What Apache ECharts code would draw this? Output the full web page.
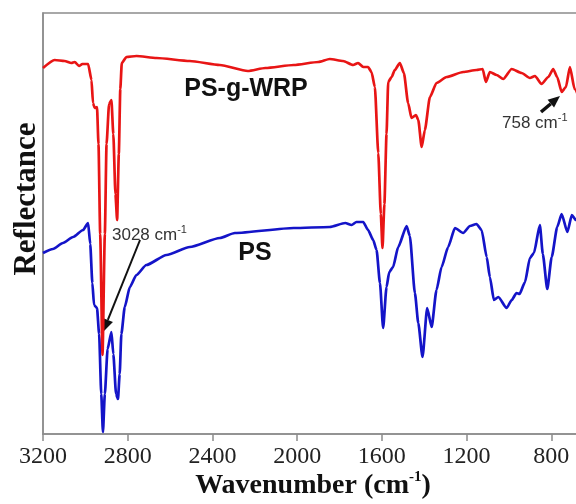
<!DOCTYPE html>
<html>
<head>
<meta charset="utf-8">
<script src="https://cdn.jsdelivr.net/npm/echarts@6/dist/echarts.min.js"></script>
<style>
html, body { margin: 0; padding: 0; background: #fff; }
#main { width: 576px; height: 504px; }
</style>
</head>
<body>
<div id="main"></div>
<script>
// wavenumber axis (cm-1), drawn reversed
const wnMin = 400
const wnMax = 3200
const wnStep = 400

// PS-g-WRP (red)
const redWn = [3200, 3145, 3098, 3066, 3050, 3030, 3014, 2987, 2971, 2964, 2956, 2945, 2938, 2930, 2919, 2908, 2900, 2888, 2877, 2868, 2858, 2850, 2842, 2835, 2828, 2806, 2759, 2664, 2507, 2365, 2233, 2150, 2016, 1900, 1846, 1783, 1736, 1712, 1688, 1665, 1649, 1633, 1617, 1605, 1597, 1588, 1578, 1570, 1554, 1539, 1515, 1496, 1476, 1460, 1439, 1428, 1412, 1397, 1373, 1342, 1294, 1216, 1153, 1124, 1109, 1090, 1058, 1027, 987, 940, 901, 877, 846, 814, 791, 772, 751, 731, 712, 690, 660]
const redVal = [366, 374, 373, 371, 372, 368, 370, 370, 354, 331, 326, 327, 290, 200, 79, 200, 290, 330, 334, 300, 240, 214, 280, 345, 371, 377, 378, 376, 373, 369, 363, 366, 369, 372, 375, 373, 369, 371, 367, 367, 362, 347, 281, 220, 186, 230, 300, 352, 357, 364, 371, 361, 331, 316, 319, 314, 287, 304, 337, 351, 357, 362, 364, 365, 352, 362, 359, 355, 365, 361, 356, 358, 350, 357, 365, 357, 342, 347, 367, 345, 330]

// PS (blue)
const blueWn = [3200, 3153, 3106, 3058, 3011, 2987, 2977, 2967, 2959, 2945, 2935, 2925, 2917, 2908, 2895, 2877, 2868, 2855, 2846, 2838, 2830, 2814, 2790, 2759, 2712, 2617, 2507, 2365, 2294, 2016, 1846, 1773, 1743, 1720, 1688, 1665, 1641, 1625, 1609, 1594, 1578, 1565, 1547, 1523, 1483, 1468, 1444, 1428, 1408, 1386, 1365, 1342, 1318, 1287, 1255, 1216, 1184, 1153, 1129, 1105, 1090, 1071, 1050, 1011, 987, 964, 950, 924, 901, 882, 854, 840, 819, 798, 772, 751, 724, 703, 684, 660]
const blueVal = [181, 185, 191, 197, 204, 211, 190, 151, 129, 126, 100, 40, 2, 40, 85, 102, 80, 40, 35, 60, 100, 127, 147, 159, 169, 179, 187, 196, 201, 206, 207, 211, 209, 212, 212, 204, 194, 184, 151, 106, 147, 162, 167, 187, 208, 198, 141, 111, 77, 126, 107, 144, 167, 187, 206, 201, 208, 210, 204, 177, 157, 134, 137, 126, 134, 141, 140, 152, 176, 181, 209, 180, 145, 177, 207, 220, 202, 219, 214, 205]

const chart = echarts.init(document.getElementById('main'))

const pairs = (xs, ys) => xs.map((x, i) => [x, ys[i]])

function arrow(x1, y1, x2, y2, head, width) {
    const a = Math.atan2(y2 - y1, x2 - x1)
    const bx = x2 - head * Math.cos(a)
    const by = y2 - head * Math.sin(a)
    const nx = -Math.sin(a) * head * 0.42
    const ny = Math.cos(a) * head * 0.42
    return [
        { type: 'line', shape: { x1: x1, y1: y1, x2: bx, y2: by }, style: { stroke: '#111', lineWidth: width } },
        { type: 'polygon', shape: { points: [[x2, y2], [bx + nx, by + ny], [bx - nx, by - ny]] }, style: { fill: '#111' } }
    ]
}

const axisGray = '#8c8c8c'
const serif = '"Liberation Serif", "DejaVu Serif", serif'
const sans = '"Liberation Sans", Arial, sans-serif'

const option = {
    animation: false,
    backgroundColor: '#fff',
    grid: { left: 43, top: 13, width: 593, height: 421, show: true, borderColor: axisGray, borderWidth: 1.5,
            containLabel: false, outerBoundsMode: 'none' },
    xAxis: {
        type: 'value', inverse: true, min: wnMin, max: wnMax, interval: wnStep,
        axisLine: { show: true, lineStyle: { color: axisGray, width: 1.5 } },
        axisTick: { show: true, inside: false, length: 7, lineStyle: { color: axisGray, width: 1.5 } },
        axisLabel: { fontFamily: serif, fontSize: 24, color: '#222', margin: 11, formatter: v => String(v) },
        splitLine: { show: false }
    },
    yAxis: {
        type: 'value', min: 0, max: 421,
        axisLine: { show: true, lineStyle: { color: axisGray, width: 1.5 } },
        axisTick: { show: false }, axisLabel: { show: false }, splitLine: { show: false }
    },
    series: [
        { name: 'PS', type: 'line', data: pairs(blueWn, blueVal), showSymbol: false, smooth: 0.2, smoothMonotone: 'x',
          lineStyle: { color: '#1414c8', width: 2.7 }, z: 2 },
        { name: 'PS-g-WRP', type: 'line', data: pairs(redWn, redVal), showSymbol: false, smooth: 0.2, smoothMonotone: 'x',
          lineStyle: { color: '#e81515', width: 2.7 }, z: 3 }
    ],
    graphic: [
        { type: 'text', x: 246, y: 89, z: 10, style: { text: 'PS-g-WRP', font: 'bold 25px ' + sans, fill: '#111', align: 'center', verticalAlign: 'middle' } },
        { type: 'text', x: 255, y: 253, z: 10, style: { text: 'PS', font: 'bold 25px ' + sans, fill: '#111', align: 'center', verticalAlign: 'middle' } },
        { type: 'text', x: 112, y: 234, z: 10, style: { text: '{a|3028 cm}{s|-1}', align: 'left', verticalAlign: 'middle',
          rich: { a: { font: '17px ' + sans, fill: '#333', lineHeight: 20, verticalAlign: 'bottom' }, s: { font: '11px ' + sans, fill: '#333', lineHeight: 20, verticalAlign: 'top' } } } },
        { type: 'text', x: 502, y: 122, z: 10, style: { text: '{a|758 cm}{s|-1}', align: 'left', verticalAlign: 'middle',
          rich: { a: { font: '17px ' + sans, fill: '#333', lineHeight: 20, verticalAlign: 'bottom' }, s: { font: '11px ' + sans, fill: '#333', lineHeight: 20, verticalAlign: 'top' } } } },
        { type: 'text', x: 313, y: 485, z: 10, style: { text: '{a|Wavenumber (cm}{s|-1}{a|)}', align: 'center', verticalAlign: 'middle',
          rich: { a: { font: 'bold 28px ' + serif, fill: '#111', lineHeight: 30, verticalAlign: 'bottom' }, s: { font: 'bold 15px ' + serif, fill: '#111', lineHeight: 30, verticalAlign: 'top' } } } },
        { type: 'text', x: 27, y: 199, rotation: Math.PI / 2, z: 10, style: { text: 'Reflectance', font: 'bold 31px ' + serif, fill: '#111', align: 'center', verticalAlign: 'middle' } }
    ].concat(arrow(140, 240, 103, 332, 13, 2), arrow(541, 112, 560, 96, 12, 3.5))
}

chart.setOption(option)
</script>
</body>
</html>
